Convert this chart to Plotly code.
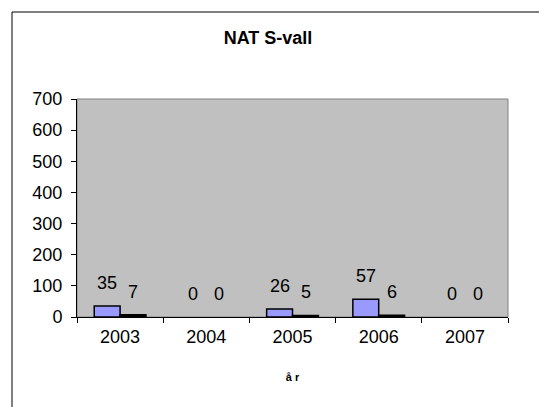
import plotly.graph_objects as go

years = ["2003", "2004", "2005", "2006", "2007"]
series_a = [35, 0, 26, 57, 0]
series_b = [7, 0, 5, 6, 0]
y_ticks = [0, 100, 200, 300, 400, 500, 600, 700]

# page body has an 8px default margin; compensate
OFF = 8
FW, FH = 547 - OFF, 407 - OFF

def edge(vals):
    return [1.5 if v > 0 else 0 for v in vals]

fig = go.Figure()
fig.add_trace(go.Bar(x=years, y=series_a,
                     marker=dict(color="#9999FF", line=dict(color="black", width=edge(series_a))), name="A"))
fig.add_trace(go.Bar(x=years, y=series_b,
                     marker=dict(color="#000000", line=dict(color="black", width=edge(series_b))), name="B"))

for i, yr in enumerate(years):
    for vals, dx in ((series_a, -13), (series_b, 13)):
        fig.add_annotation(x=i, y=vals[i], text=str(vals[i]), showarrow=False,
                           xshift=dx, yshift=23, yanchor="middle",
                           font=dict(family="Liberation Sans, Arial", size=18, color="black"))

L, R, T, B = 77 - OFF, 508 - OFF, 99 - OFF, 317 - OFF
W, H = R - L, B - T
fig.add_shape(type="rect", xref="paper", yref="paper",
              x0=(12 - OFF - L) / W, x1=(600 - L) / W, y0=(B - 450) / H, y1=(B - (12 - OFF)) / H,
              line=dict(color="black", width=1), fillcolor="rgba(0,0,0,0)")
fig.add_shape(type="rect", xref="paper", yref="paper", x0=0, x1=1, y0=0, y1=1,
              line=dict(color="#808080", width=1), layer="below")

fig.update_layout(
    width=FW, height=FH,
    margin=dict(l=L, r=FW - R, t=T, b=FH - B),
    paper_bgcolor="white", plot_bgcolor="#C0C0C0",
    showlegend=False, bargap=0.4, bargroupgap=0,
    font=dict(family="Liberation Sans, Arial", size=18, color="black"),
    title=dict(text="<b>NAT S-vall</b>", x=(268 - OFF) / FW, xanchor="center",
               y=1 - (38 - OFF) / FH, yanchor="middle", font=dict(size=18)),
)
fig.update_xaxes(type="category", range=[-0.5, 4.5], showline=True, linecolor="black", linewidth=1,
                 ticks="outside", ticklen=5, tickcolor="black", tickson="boundaries",
                 showgrid=False, tickangle=0, ticklabelstandoff=3,
                 title=dict(text="<b>å r</b>", font=dict(size=11), standoff=27))
fig.update_yaxes(range=[0, 700], tickvals=y_ticks, showline=True, linecolor="black", linewidth=1,
                 ticks="outside", ticklen=5, tickcolor="black", showgrid=False, zeroline=False,
                 ticklabelstandoff=5)

fig.write_html("out.html")
